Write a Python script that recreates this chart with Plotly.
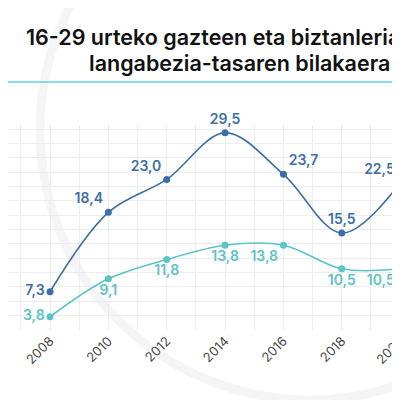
import plotly.graph_objects as go

years = [2008, 2010, 2012, 2014, 2016, 2018, 2020]
gazteak = [7.3, 18.4, 23.0, 29.5, 23.7, 15.5, 22.5]   # 16-29 urte
guztira = [3.8, 9.1, 11.8, 13.8, 13.8, 10.5, 10.5]    # biztanleria osoa

title_1 = "16-29 urteko gazteen eta biztanleria"
title_2 = "langabezia-tasaren bilakaera"

blue = "#3b6fa5"
teal = "#5cc3c7"

# the page puts the figure 8px in from the top-left, so positions
# below are given in screen pixels and shifted back by 8
def px(x):
    return (x - 8) / 400


def py(y):
    return (330 - y) / 205


def eu(v):
    return f"{v:.1f}".replace(".", ",")


fig = go.Figure()
fig.add_trace(go.Scatter(
    x=years, y=gazteak, mode="lines+markers+text",
    line=dict(color=blue, width=1.6, shape="spline", smoothing=1.0),
    marker=dict(color=blue, size=7),
    text=[eu(v) for v in gazteak],
    textposition=["middle left", "top left", "top left", "top center",
                  "top right", "top center", "top left"],
    textfont=dict(family="Inter", size=14, color=blue, weight=600),
    cliponaxis=False, showlegend=False,
))
fig.add_trace(go.Scatter(
    x=years, y=guztira, mode="lines+markers+text",
    line=dict(color=teal, width=1.6, shape="spline", smoothing=1.0),
    marker=dict(color=teal, size=7),
    text=[eu(v) for v in guztira],
    textposition=["middle left", "bottom center", "bottom center", "bottom center",
                  "bottom left", "bottom center", "bottom left"],
    textfont=dict(family="Inter", size=14, color=teal, weight=600),
    cliponaxis=False, showlegend=False,
))

fig.update_xaxes(
    range=[2006.56, 2020.27], tick0=2008, dtick=2, tickangle=-45,
    showgrid=True, gridcolor="#ececf1", gridwidth=1,
    minor=dict(dtick=1, showgrid=True, gridcolor="#ececf1"),
    zeroline=False, showline=False, ticks="",
    tickfont=dict(family="Inter", size=13, color="#4a4a4a"),
)
fig.update_yaxes(
    range=[1.95, 30.6], tick0=2, dtick=2, showticklabels=False,
    showgrid=True, gridcolor="#ececf1", zeroline=False, showline=False,
)

# izenburua eta azpiko marra
fig.add_annotation(text=title_1, xref="paper", yref="paper", x=px(24), y=py(37),
                   xanchor="left", yanchor="middle", showarrow=False,
                   font=dict(family="Inter", size=21.5, color="#111111", weight=600))
fig.add_annotation(text=title_2, xref="paper", yref="paper", x=px(87), y=py(63),
                   xanchor="left", yanchor="middle", showarrow=False,
                   font=dict(family="Inter", size=21.5, color="#111111", weight=600))
fig.add_shape(type="line", xref="paper", yref="paper", x0=px(0), x1=px(420),
              y0=py(82), y1=py(82), line=dict(color="#5fd3e3", width=1.5))

# atzeko arku lausoa
fig.add_shape(type="circle", xref="paper", yref="paper", layer="below",
              x0=px(40), x1=px(580), y0=py(400), y1=py(-140),
              line=dict(color="#f5f5f7", width=9))

fig.update_layout(
    width=400, height=400,
    margin=dict(l=0, r=0, t=117, b=78, autoexpand=False),
    paper_bgcolor="white", plot_bgcolor="white",
)

fig.write_html("out.html")
